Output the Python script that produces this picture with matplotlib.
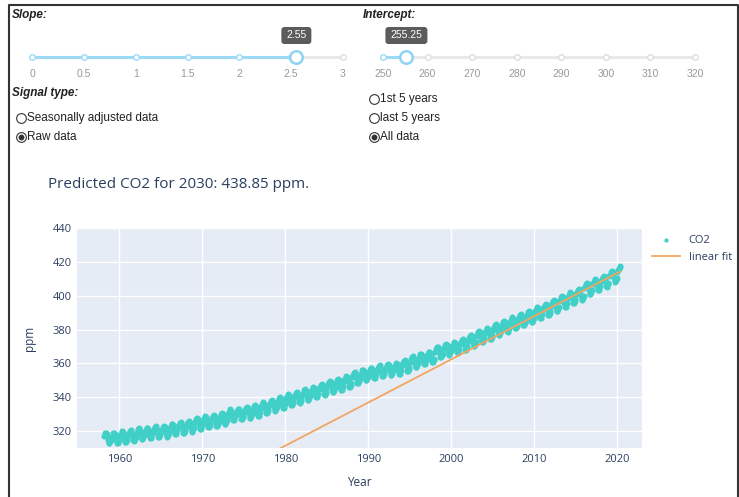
# plot.py
# Dash-style CO2 dashboard redrawn with matplotlib

import numpy as np
import matplotlib.pyplot as plt
from matplotlib.patches import FancyBboxPatch

# Mauna Loa annual mean CO2 (ppm), 1958-2020
years = list(range(1958, 2021))
annual_co2 = [315.98, 315.97, 316.91, 317.64, 318.45, 318.99, 319.62, 320.04, 321.37, 322.18,
              323.05, 324.62, 325.68, 326.32, 327.46, 329.68, 330.19, 331.12, 332.03, 333.84,
              335.41, 336.84, 338.76, 340.12, 341.48, 343.15, 344.85, 346.35, 347.61, 349.31,
              351.69, 353.20, 354.45, 355.70, 356.54, 357.21, 358.96, 360.97, 362.74, 363.88,
              366.84, 368.54, 369.71, 371.32, 373.45, 375.98, 377.70, 379.98, 382.09, 384.02,
              385.83, 387.64, 390.10, 391.85, 394.06, 396.74, 398.81, 401.01, 404.41, 406.76,
              408.72, 411.66, 414.24]
# seasonal departure from annual mean, Jan..Dec (ppm)
seasonal = [0.0, 0.7, 1.4, 2.6, 3.1, 2.4, 0.9, -1.3, -3.2, -3.3, -2.1, -1.0]
first_month = 3   # March 1958
last_month = 5    # May 2020

# slider settings
slope = 2.55
intercept = 255.25
slope_ticks = [0, 0.5, 1, 1.5, 2, 2.5, 3]
intercept_ticks = [250, 260, 270, 280, 290, 300, 310, 320]
signal_options = ["Seasonally adjusted data", "Raw data"]
range_options = ["1st 5 years", "last 5 years", "All data"]

# build monthly series from the tables above
t, co2 = [], []
for yi, yr in enumerate(years):
    for m in range(1, 13):
        if yr == years[0] and m < first_month:
            continue
        if yr == years[-1] and m > last_month:
            continue
        t.append(yr + (m - 0.5) / 12)
        co2.append(annual_co2[yi] + seasonal[m - 1])
t = np.array(t)
co2 = np.array(co2)
fit = slope * (t - 1958) + intercept
pred_2030 = slope * (2030 - 1958) + intercept

W, H = 739, 497
fig = plt.figure(figsize=(W / 100, H / 100), dpi=100)

# background layer in pixel coordinates for the widgets
bg = fig.add_axes([0, 0, 1, 1])
bg.set_xlim(0, W)
bg.set_ylim(H, 0)
bg.axis("off")

# page border
bg.plot([9, 9, 738, 738], [H, 4.5, 4.5, H], color="#333333", lw=1.5, solid_capstyle="butt")

ui = "Liberation Sans"
txt = "#222222"


def slider(x0, x1, y, ticks, value, label, lx, ly, tiptext):
    lo, hi = ticks[0], ticks[-1]
    xv = x0 + (value - lo) / (hi - lo) * (x1 - x0)
    bg.text(lx, ly, label, fontsize=8.5, fontweight="bold", style="italic",
            family=ui, color=txt, va="center")
    bg.plot([x0, x1], [y, y], color="#e9e9e9", lw=2.2, solid_capstyle="round", zorder=2)
    bg.plot([x0, xv], [y, y], color="#9bd9f5", lw=2.2, solid_capstyle="round", zorder=3)
    for tk in ticks:
        xt = x0 + (tk - lo) / (hi - lo) * (x1 - x0)
        ec = "#9bd9f5" if tk <= value else "#dddddd"
        bg.plot(xt, y, "o", ms=4, mfc="white", mec=ec, mew=1, zorder=4)
        bg.text(xt, y + 17, f"{tk:g}", fontsize=7.5, family=ui, color="#999999",
                ha="center", va="center")
    bg.plot(xv, y, "o", ms=9, mfc="white", mec="#8fd3f3", mew=1.8, zorder=5)
    tw = 6 * len(tiptext) + 6
    box = FancyBboxPatch((xv - tw / 2, y - 30), tw, 17, boxstyle="round,pad=0,rounding_size=3",
                         fc="#5c5c5c", ec="none", zorder=5)
    bg.add_patch(box)
    bg.text(xv, y - 21.5, tiptext, fontsize=7.5, family=ui, color="white",
            ha="center", va="center", zorder=6)


slider(32, 343, 57, slope_ticks, slope, "Slope:", 12, 15, f"{slope:g}")
slider(383, 695, 57, intercept_ticks, intercept, "Intercept:", 363, 15, f"{intercept:g}")

bg.text(12, 93, "Signal type:", fontsize=8.5, fontweight="bold", style="italic",
        family=ui, color=txt, va="center")


def radios(x, ys, labels, selected):
    for yy, lab in zip(ys, labels):
        bg.plot(x, yy, "o", ms=7, mfc="white", mec="#333333", mew=0.8)
        if lab == selected:
            bg.plot(x, yy, "o", ms=3.2, color="#333333")
        bg.text(x + 6, yy, lab, fontsize=8.5, family=ui, color=txt, va="center")


radios(21, [118, 137], signal_options, "Raw data")
radios(374, [99, 118, 137], range_options, "All data")

bg.text(48, 184, f"Predicted CO2 for 2030: {pred_2030:.2f} ppm.", fontsize=11,
        family="Open Sans", color="#2a3f5f", va="center")

# main chart
ax = fig.add_axes([77 / W, 1 - 448 / H, (642 - 77) / W, (448 - 228) / H])
ax.set_facecolor("#e5ecf6")
ax.scatter(t, co2, s=19, color="#40d0c8", linewidths=0, label="CO2", zorder=3)
ax.plot(t, fit, color="#f4a460", lw=1.3, label="linear fit", zorder=4)
ax.set_xlim(1954.9, 2023.0)
ax.set_ylim(310, 440)
ax.set_xticks([1960, 1970, 1980, 1990, 2000, 2010, 2020])
ax.set_yticks([320, 340, 360, 380, 400, 420, 440])
ax.grid(color="white", lw=1)
ax.set_axisbelow(True)
for s in ax.spines.values():
    s.set_visible(False)
ax.tick_params(length=0, labelsize=8, labelcolor="#2a3f5f", pad=4)
for lbl in ax.get_xticklabels() + ax.get_yticklabels():
    lbl.set_family("Open Sans")
ax.set_xlabel("Year", fontsize=8.5, color="#2a3f5f", family="Open Sans", labelpad=8)
ax.set_ylabel("ppm", fontsize=8.5, color="#2a3f5f", family="Open Sans", labelpad=12)
ax.legend(loc="upper left", bbox_to_anchor=(1.01, 0.99), frameon=False,
          prop={"family": "Open Sans", "size": 8}, labelcolor="#2a3f5f",
          handlelength=2.5, borderaxespad=0, labelspacing=0.6, markerscale=0.7)

fig.savefig("out.png", dpi=100)
